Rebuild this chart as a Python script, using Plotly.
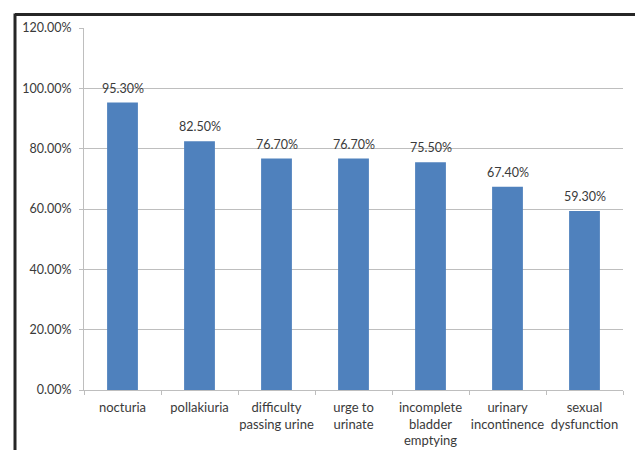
import plotly.graph_objects as go

# Symptom prevalence data
categories = [
    "nocturia",
    "pollakiuria",
    "difficulty<br>passing urine",
    "urge to<br>urinate",
    "incomplete<br>bladder<br>emptying",
    "urinary<br>incontinence",
    "sexual<br>dysfunction",
]
values = [95.3, 82.5, 76.7, 76.7, 75.5, 67.4, 59.3]
y_ticks = [0, 20, 40, 60, 80, 100, 120]

FONT = "Lato"
TEXT_COLOR = "#3a3a3a"
GRID = "#BEBEBE"

fig = go.Figure(
    go.Bar(
        x=categories,
        y=values,
        marker=dict(color="#4F81BD", line=dict(width=0)),
        width=0.4,
        hoverinfo="skip",
    )
)

# value labels above each bar
for c, v in zip(categories, values):
    fig.add_annotation(
        x=c, y=v, text=f"{v:.2f}%", showarrow=False,
        yanchor="bottom", yshift=5,
        font=dict(family=FONT, size=12.5, color=TEXT_COLOR),
    )

# outer frame (left and top edges)
fig.add_shape(type="line", xref="paper", yref="paper",
              x0=-0.128, x1=1.05, y0=1.037, y1=1.037,
              line=dict(color="#262626", width=3))
fig.add_shape(type="line", xref="paper", yref="paper",
              x0=-0.128, x1=-0.128, y0=-0.3, y1=1.04,
              line=dict(color="#262626", width=3))

fig.update_layout(
    width=635, height=450,
    margin=dict(l=84, r=12, t=28, b=60),
    paper_bgcolor="white", plot_bgcolor="white",
    showlegend=False,
    font=dict(family=FONT, size=12.5, color=TEXT_COLOR),
    xaxis=dict(
        type="category",
        automargin=False,
        tickangle=0,
        showline=True, linecolor=GRID, linewidth=1,
        ticks="outside", tickson="boundaries", ticklen=4, tickcolor=GRID,
        ticklabelstandoff=5,
        showgrid=False,
        tickfont=dict(family=FONT, size=13, color=TEXT_COLOR),
    ),
    yaxis=dict(
        automargin=False,
        range=[0, 120],
        tickvals=y_ticks,
        ticktext=[f"{t:.2f}%" for t in y_ticks],
        showline=True, linecolor=GRID, linewidth=1,
        ticks="outside", ticklen=4, tickcolor=GRID,
        ticklabelstandoff=5,
        showgrid=True, gridcolor=GRID, gridwidth=1,
        zeroline=False,
        tickfont=dict(family=FONT, size=12.5, color=TEXT_COLOR),
    ),
)

fig.write_html("out.html")
